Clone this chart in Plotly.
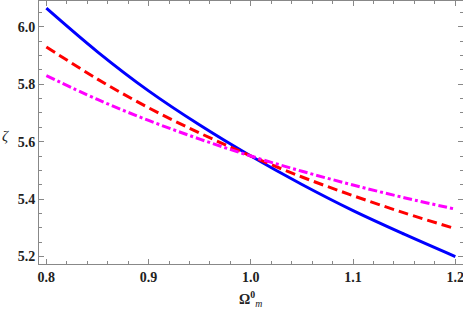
import plotly.graph_objects as go

omega = [0.80, 0.85, 0.90, 0.95, 1.00, 1.05, 1.10, 1.15, 1.20]
zeta_blue = [6.065, 5.913, 5.777, 5.658, 5.550, 5.451, 5.360, 5.278, 5.200]
zeta_red = [5.930, 5.818, 5.718, 5.630, 5.550, 5.477, 5.412, 5.352, 5.297]
zeta_magenta = [5.830, 5.747, 5.674, 5.609, 5.550, 5.497, 5.449, 5.405, 5.365]

x_ticks = [0.8, 0.9, 1.0, 1.1, 1.2]
x_tick_labels = ["0.8", "0.9", "1.0", "1.1", "1.2"]
y_ticks = [5.2, 5.4, 5.6, 5.8, 6.0]
y_tick_labels = ["5.2", "5.4", "5.6", "5.8", "6.0"]

fig = go.Figure()
fig.add_trace(go.Scatter(x=omega, y=zeta_blue, mode="lines",
                         line=dict(color="#0000ff", width=3, shape="spline")))
fig.add_trace(go.Scatter(x=omega, y=zeta_red, mode="lines",
                         line=dict(color="#ff0000", width=3, shape="spline", dash="10px,5px")))
fig.add_trace(go.Scatter(x=omega, y=zeta_magenta, mode="lines",
                         line=dict(color="#ff00ff", width=3, shape="spline", dash="9px,3px,3px,3px")))

tickfont = dict(family="Liberation Serif, Times New Roman, serif", size=14, color="#222222")
axis_common = dict(showline=True, mirror="allticks", linecolor="#888888", linewidth=1,
                   ticks="inside", ticklen=5, tickcolor="#888888", tickwidth=1,
                   showgrid=False, zeroline=False, tickfont=tickfont, automargin=False,
                   ticklabeloverflow="allow")

fig.update_xaxes(range=[0.7928, 1.2075], tickvals=x_ticks, ticktext=["<b>%s</b>" % t for t in x_tick_labels],
                 minor=dict(dtick=0.02, ticks="inside", ticklen=3, tickcolor="#888888", showgrid=False),
                 **axis_common)
fig.update_yaxes(range=[5.174, 6.09], tickvals=y_ticks, ticktext=["<b>%s</b>" % t for t in y_tick_labels],
                 minor=dict(dtick=0.05, ticks="inside", ticklen=3, tickcolor="#888888", showgrid=False),
                 **axis_common)

fig.update_layout(
    width=463, height=314,
    margin=dict(l=39, r=0, t=1, b=50),
    plot_bgcolor="white", paper_bgcolor="white",
    showlegend=False,
    annotations=[
        dict(text="<i>ζ</i>", x=0, y=5.6, xref="paper", yref="y", showarrow=False,
             xanchor="center", yanchor="middle", xshift=-34, yshift=6,
             font=dict(family="Liberation Serif, serif", size=15, color="#222222")),
        dict(text="<b>Ω</b><sup><b>0</b></sup><sub><i>m</i></sub>", x=1.0, y=0, xref="x", yref="paper",
             showarrow=False, xanchor="center", yanchor="middle", yshift=-35,
             font=dict(family="Liberation Serif, serif", size=14, color="#222222")),
    ],
)

fig.write_html("out.html", config={"displayModeBar": False},
               post_script="document.body.style.margin='0';document.body.style.overflow='hidden';")
